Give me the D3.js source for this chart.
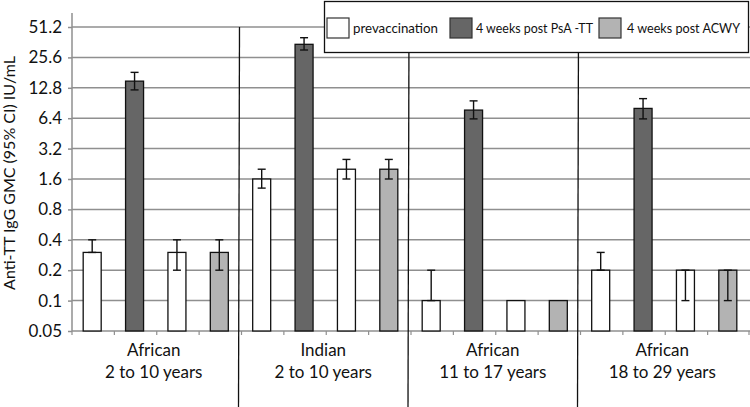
<!DOCTYPE html>
<html><head><meta charset="utf-8">
<script src="https://cdn.jsdelivr.net/npm/d3@7"></script>
<style>body{margin:0;background:#fff}svg{display:block}</style>
</head><body>
<svg id="c" width="750" height="407"></svg>
<script>
const groups = ["African|2 to 10 years","Indian|2 to 10 years","African|11 to 17 years","African|18 to 29 years"];
const barSeries = ["pre","psa","pre","acwy"];
const seriesNames = ["prevaccination","4 weeks post PsA -TT","4 weeks post ACWY"];
const seriesKeys = ["pre","psa","acwy"];
const gmc  = [0.3,14.9,0.3,0.3,  1.6,34.5,2.0,2.0,  0.1,7.7,0.1,0.1,  0.2,8.0,0.2,0.2];
const ciLo = [0.3,12.2,0.2,0.2,  1.3,30.3,1.6,1.6,  0.1,6.3,0.1,0.1,  0.2,6.3,0.1,0.1];
const ciHi = [0.4,18.2,0.4,0.4,  2.0,40.1,2.5,2.5,  0.2,9.5,0.1,0.1,  0.3,10.0,0.2,0.2];
const yTicks = [0.05,0.1,0.2,0.4,0.8,1.6,3.2,6.4,12.8,25.6,51.2];

const fills = {pre:"#ffffff", psa:"#666666", acwy:"#b3b3b3"};
const font = "Lato, 'Open Sans', sans-serif";
const svg = d3.select("#c");
const L = 72, R = 750, T = 27, B = 331;

const slots = d3.range(16);
const x = d3.scaleBand().domain(slots).range([L, R]).paddingInner(0).paddingOuter(0);
const y = d3.scaleLog().base(2).domain([0.05, 51.2]).range([B, T]);
const gx = d3.scaleBand().domain(d3.range(groups.length)).range([L, R]);

// gridlines
svg.append("g").selectAll("line").data(yTicks.slice(1)).join("line")
  .attr("x1", L).attr("x2", R).attr("y1", d=>y(d)).attr("y2", d=>y(d))
  .attr("stroke", "#8f8f8f").attr("stroke-width", 1.5);

// y axis
const ya = svg.append("g").attr("transform", `translate(${L},0)`)
  .call(d3.axisLeft(y).tickValues(yTicks).tickFormat(d=>String(d)).tickSize(4).tickPadding(6));
ya.select(".domain").remove();
ya.append("line").attr("x1",0).attr("x2",0).attr("y1",13).attr("y2",B).attr("stroke","#8f8f8f").attr("stroke-width",1.5);
ya.selectAll(".tick line").attr("stroke","#8f8f8f").attr("stroke-width",1.5);
ya.selectAll(".tick text").attr("font-family", font).attr("font-size", 17).attr("fill","#111");

// x axis
const xa = svg.append("g").attr("transform", `translate(0,${B})`);
xa.append("line").attr("x1",L).attr("x2",R).attr("stroke","#8f8f8f").attr("stroke-width",1.5);
xa.selectAll("line.t").data(d3.range(17)).join("line").attr("class","t")
  .attr("x1", d=> d<16 ? x(d) : R-1).attr("x2", d=> d<16 ? x(d) : R-1)
  .attr("y1",0).attr("y2",4).attr("stroke","#8f8f8f").attr("stroke-width",1.2);

// separators
svg.append("g").selectAll("line").data(d3.range(1, groups.length)).join("line")
  .attr("x1", d=>gx(d)-2).attr("x2", d=>gx(d)-3).attr("y1", T).attr("y2", 407)
  .attr("stroke","#111").attr("stroke-width",1.3);

// bars
const bw = 18;
svg.append("g").selectAll("rect").data(slots).join("rect")
  .attr("x", i => x(i) + x.bandwidth()/2 - bw/2 - 1)
  .attr("width", bw).attr("y", i => y(gmc[i])).attr("height", i => B - y(gmc[i]))
  .attr("fill", i => fills[barSeries[i%4]]).attr("stroke","#111").attr("stroke-width",1.3);

// error bars
const eb = svg.append("g").attr("stroke","#111").attr("stroke-width",1.4);
slots.forEach(i=>{
  if (ciHi[i] === ciLo[i]) return;
  const cx = x(i) + x.bandwidth()/2 - 1;
  eb.append("line").attr("x1",cx).attr("x2",cx).attr("y1",y(ciLo[i])).attr("y2",y(ciHi[i]));
  [ciLo[i], ciHi[i]].forEach(v=>{
    eb.append("line").attr("x1",cx-4).attr("x2",cx+4).attr("y1",y(v)).attr("y2",y(v));
  });
});

// group labels
const gl = svg.append("g").attr("font-family", font).attr("font-size", 17).attr("fill","#111").attr("text-anchor","middle");
groups.forEach((g,k)=>{
  const parts = g.split("|");
  const cx = gx(k) + gx.bandwidth()/2 - 3;
  gl.append("text").attr("x",cx).attr("y",356).text(parts[0]);
  gl.append("text").attr("x",cx).attr("y",378).text(parts[1]);
});

// y label
svg.append("text").attr("transform","translate(15,173) rotate(-90)")
  .attr("text-anchor","middle").attr("font-family", font).attr("font-size", 16).attr("fill","#111")
  .text("Anti-TT IgG GMC (95% CI) IU/mL");

// legend
const lg = svg.append("g");
lg.append("rect").attr("x",324.5).attr("y",1.5).attr("width",424).attr("height",51)
  .attr("fill","#fff").attr("stroke","#111").attr("stroke-width",1.3);
const lx = [327, 450, 599];
seriesKeys.forEach((k,i)=>{
  lg.append("rect").attr("x",lx[i]).attr("y",18).attr("width",22).attr("height",20)
    .attr("fill",fills[k]).attr("stroke","#333").attr("stroke-width",1.2);
  lg.append("text").attr("x",lx[i] + (i===2?28:26)).attr("y",33).attr("font-family",font)
    .attr("font-size",13.5).attr("fill","#111").attr("textLength", [85,117,113][i])
    .attr("lengthAdjust","spacingAndGlyphs").text(seriesNames[i]);
});
</script>
</body></html>
